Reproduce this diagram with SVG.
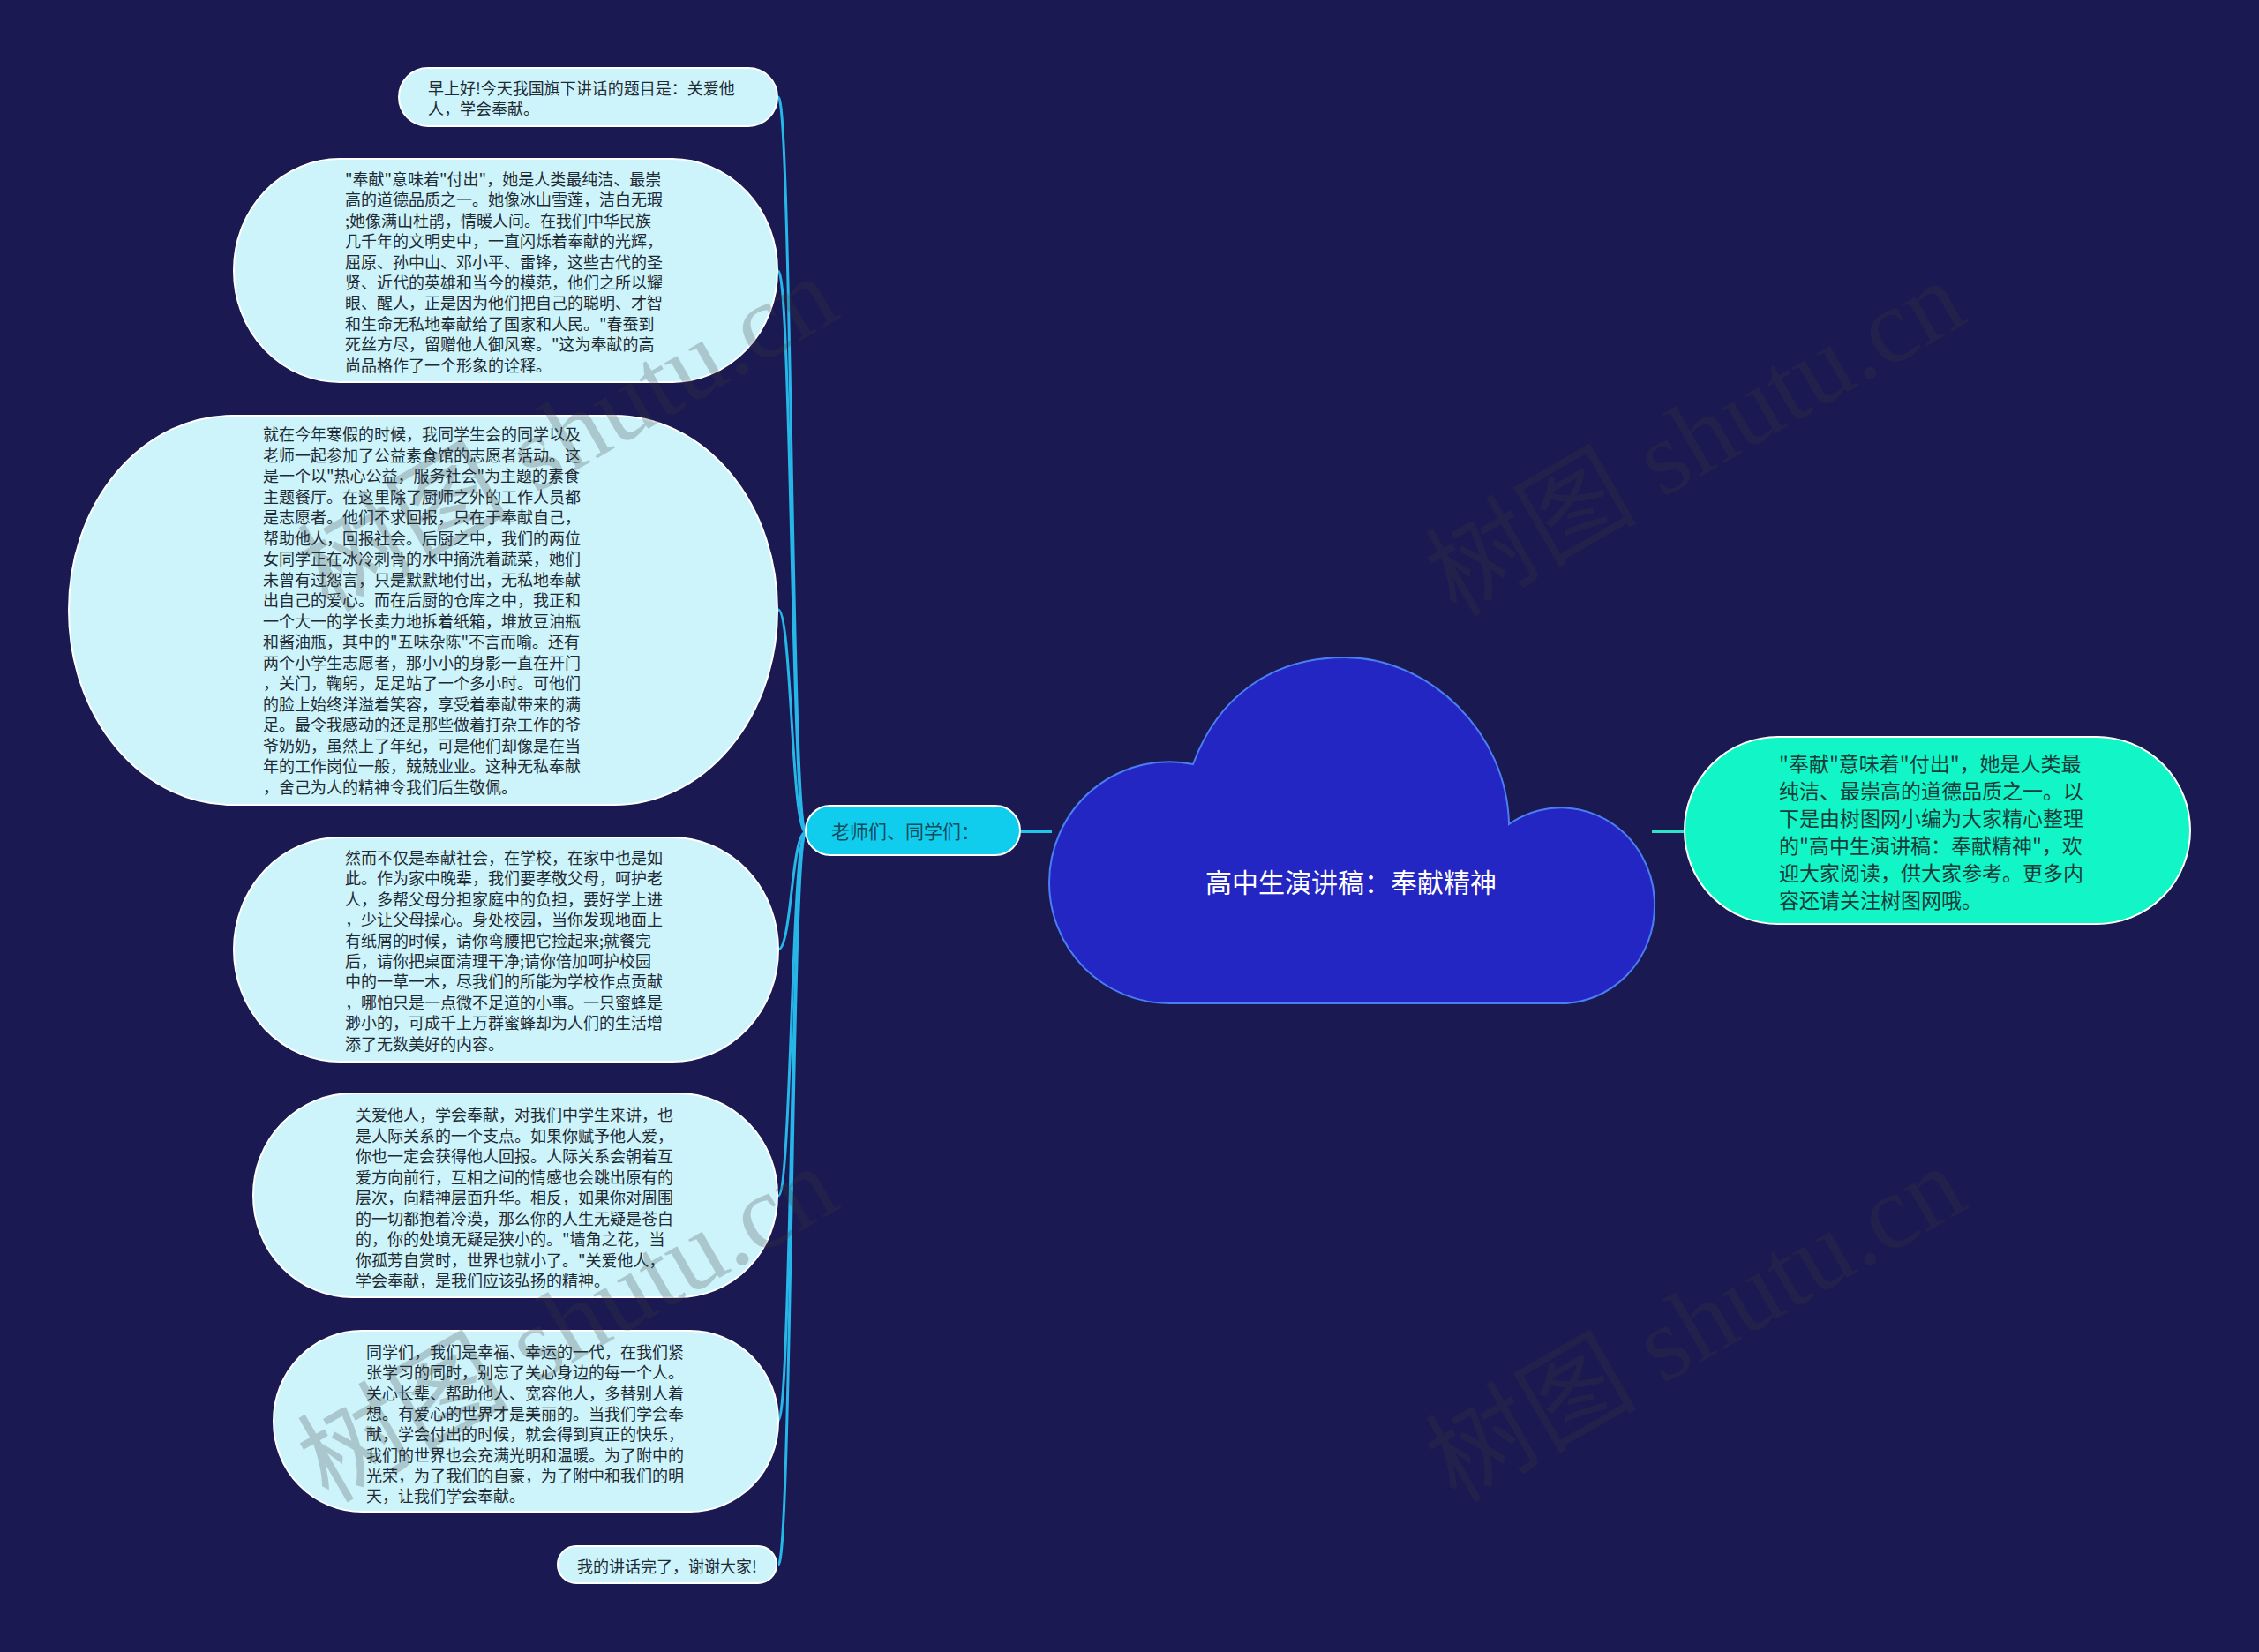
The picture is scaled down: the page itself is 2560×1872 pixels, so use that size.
<svg xmlns="http://www.w3.org/2000/svg" width="2560" height="1872" viewBox="0 0 2560 1872">
<style>
.leaf{fill:#cdf4fb;stroke:#ffffff;stroke-width:2}
.lt{font-family:"Noto Sans CJK SC","Noto Sans",sans-serif;font-size:18px;fill:#1f2a33}
.conn{fill:none;stroke:#27b6e8;stroke-width:3}
.wm{font-family:"Liberation Serif","Noto Sans CJK SC",serif;font-size:120px;fill:#3c3c3c;fill-opacity:0.24}
</style>
<rect x="0" y="0" width="2560" height="1872" fill="#1a1952"/>

<g id="connectors">
<path class="conn" d="M913 943 C897 943 897 110 882 110"/>
<path class="conn" d="M913 943 C897 943 897 307 882 307"/>
<path class="conn" d="M913 943 C897 943 897 691 882 691"/>
<path class="conn" d="M913 943 C897 943 897 1076 882 1076"/>
<path class="conn" d="M913 943 C897 943 897 1355 882 1355"/>
<path class="conn" d="M913 943 C897 943 897 1610 882 1610"/>
<path class="conn" d="M913 943 C897 943 897 1773 882 1773"/>
<line x1="1156" y1="942" x2="1192" y2="942" stroke="#1ec6ea" stroke-width="4"/>
<line x1="1872" y1="942" x2="1910" y2="942" stroke="#2fe3c9" stroke-width="4"/>
</g>

<g id="root">
<path d="M1325 1137 A136 137 0 0 1 1189 1000 A136 137 0 0 1 1352 866 C1380 790 1440 745 1524 745 C1620 745 1708 830 1710 934 A106 110 0 0 1 1875 1027 A106 110 0 0 1 1769 1137 Z" fill="#2426c4" stroke="#4a7ff2" stroke-width="2"/>
<text x="1531" y="1011" text-anchor="middle" font-family="Noto Sans CJK SC,Noto Sans,sans-serif" font-size="30" fill="#ffffff">高中生演讲稿：奉献精神</text>
</g>

<g id="intro">
<rect x="1909" y="835" width="573" height="212" rx="106" ry="106" fill="#12f5c6" stroke="#ffffff" stroke-width="2"/>
<text font-family="Noto Sans CJK SC,Noto Sans,sans-serif" font-size="23" fill="#173d3a">
<tspan x="2016" y="874">"奉献"意味着"付出"，她是人类最</tspan>
<tspan x="2016" y="905">纯洁、最崇高的道德品质之一。以</tspan>
<tspan x="2016" y="936">下是由树图网小编为大家精心整理</tspan>
<tspan x="2016" y="967">的"高中生演讲稿：奉献精神"，欢</tspan>
<tspan x="2016" y="998">迎大家阅读，供大家参考。更多内</tspan>
<tspan x="2016" y="1029">容还请关注树图网哦。</tspan>
</text>
</g>

<g id="greeting">
<rect x="913" y="913" width="243" height="56" rx="28" ry="28" fill="#10cdee" stroke="#ffffff" stroke-width="2"/>
<text x="942" y="950" font-family="Noto Sans CJK SC,Noto Sans,sans-serif" font-size="21" fill="#134b5c">老师们、同学们：</text>
</g>

<g id="n1">
<rect class="leaf" x="452" y="77" width="429" height="66" rx="33" ry="33"/>
<text class="lt"><tspan x="485" y="107">早上好!今天我国旗下讲话的题目是：关爱他</tspan><tspan x="485" y="130">人，学会奉献。</tspan></text>
</g>

<g id="n2">
<rect class="leaf" x="265" y="180" width="616" height="253" rx="120" ry="126"/>
<text class="lt">
<tspan x="391" y="210">"奉献"意味着"付出"，她是人类最纯洁、最崇</tspan>
<tspan x="391" y="233.4">高的道德品质之一。她像冰山雪莲，洁白无瑕</tspan>
<tspan x="391" y="256.8">;她像满山杜鹃，情暖人间。在我们中华民族</tspan>
<tspan x="391" y="280.2">几千年的文明史中，一直闪烁着奉献的光辉，</tspan>
<tspan x="391" y="303.6">屈原、孙中山、邓小平、雷锋，这些古代的圣</tspan>
<tspan x="391" y="327">贤、近代的英雄和当今的模范，他们之所以耀</tspan>
<tspan x="391" y="350.4">眼、醒人，正是因为他们把自己的聪明、才智</tspan>
<tspan x="391" y="373.8">和生命无私地奉献给了国家和人民。"春蚕到</tspan>
<tspan x="391" y="397.2">死丝方尽，留赠他人御风寒。"这为奉献的高</tspan>
<tspan x="391" y="420.6">尚品格作了一个形象的诠释。</tspan>
</text>
</g>

<g id="n3">
<rect class="leaf" x="78" y="471" width="803" height="441" rx="185" ry="220"/>
<text class="lt">
<tspan x="298" y="499">就在今年寒假的时候，我同学生会的同学以及</tspan>
<tspan x="298" y="522.5">老师一起参加了公益素食馆的志愿者活动。这</tspan>
<tspan x="298" y="546">是一个以"热心公益，服务社会"为主题的素食</tspan>
<tspan x="298" y="569.5">主题餐厅。在这里除了厨师之外的工作人员都</tspan>
<tspan x="298" y="593">是志愿者。他们不求回报，只在于奉献自己，</tspan>
<tspan x="298" y="616.5">帮助他人，回报社会。后厨之中，我们的两位</tspan>
<tspan x="298" y="640">女同学正在冰冷刺骨的水中摘洗着蔬菜，她们</tspan>
<tspan x="298" y="663.5">未曾有过怨言，只是默默地付出，无私地奉献</tspan>
<tspan x="298" y="687">出自己的爱心。而在后厨的仓库之中，我正和</tspan>
<tspan x="298" y="710.5">一个大一的学长卖力地拆着纸箱，堆放豆油瓶</tspan>
<tspan x="298" y="734">和酱油瓶，其中的"五味杂陈"不言而喻。还有</tspan>
<tspan x="298" y="757.5">两个小学生志愿者，那小小的身影一直在开门</tspan>
<tspan x="298" y="781">，关门，鞠躬，足足站了一个多小时。可他们</tspan>
<tspan x="298" y="804.5">的脸上始终洋溢着笑容，享受着奉献带来的满</tspan>
<tspan x="298" y="828">足。最令我感动的还是那些做着打杂工作的爷</tspan>
<tspan x="298" y="851.5">爷奶奶，虽然上了年纪，可是他们却像是在当</tspan>
<tspan x="298" y="875">年的工作岗位一般，兢兢业业。这种无私奉献</tspan>
<tspan x="298" y="898.5">，舍己为人的精神令我们后生敬佩。</tspan>
</text>
</g>

<g id="n4">
<rect class="leaf" x="265" y="949" width="617" height="254" rx="120" ry="127"/>
<text class="lt">
<tspan x="391" y="979">然而不仅是奉献社会，在学校，在家中也是如</tspan>
<tspan x="391" y="1002.4">此。作为家中晚辈，我们要孝敬父母，呵护老</tspan>
<tspan x="391" y="1025.8">人，多帮父母分担家庭中的负担，要好学上进</tspan>
<tspan x="391" y="1049.2">，少让父母操心。身处校园，当你发现地面上</tspan>
<tspan x="391" y="1072.6">有纸屑的时候，请你弯腰把它捡起来;就餐完</tspan>
<tspan x="391" y="1096">后，请你把桌面清理干净;请你倍加呵护校园</tspan>
<tspan x="391" y="1119.4">中的一草一木，尽我们的所能为学校作点贡献</tspan>
<tspan x="391" y="1142.8">，哪怕只是一点微不足道的小事。一只蜜蜂是</tspan>
<tspan x="391" y="1166.2">渺小的，可成千上万群蜜蜂却为人们的生活增</tspan>
<tspan x="391" y="1189.6">添了无数美好的内容。</tspan>
</text>
</g>

<g id="n5">
<rect class="leaf" x="287" y="1239" width="594" height="231" rx="112" ry="115"/>
<text class="lt">
<tspan x="403" y="1270">关爱他人，学会奉献，对我们中学生来讲，也</tspan>
<tspan x="403" y="1293.5">是人际关系的一个支点。如果你赋予他人爱，</tspan>
<tspan x="403" y="1317">你也一定会获得他人回报。人际关系会朝着互</tspan>
<tspan x="403" y="1340.5">爱方向前行，互相之间的情感也会跳出原有的</tspan>
<tspan x="403" y="1364">层次，向精神层面升华。相反，如果你对周围</tspan>
<tspan x="403" y="1387.5">的一切都抱着冷漠，那么你的人生无疑是苍白</tspan>
<tspan x="403" y="1411">的，你的处境无疑是狭小的。"墙角之花，当</tspan>
<tspan x="403" y="1434.5">你孤芳自赏时，世界也就小了。"关爱他人，</tspan>
<tspan x="403" y="1458">学会奉献，是我们应该弘扬的精神。</tspan>
</text>
</g>

<g id="n6">
<rect class="leaf" x="310" y="1508" width="572" height="205" rx="100" ry="102"/>
<text class="lt">
<tspan x="415" y="1539">同学们，我们是幸福、幸运的一代，在我们紧</tspan>
<tspan x="415" y="1562.3">张学习的同时，别忘了关心身边的每一个人。</tspan>
<tspan x="415" y="1585.6">关心长辈、帮助他人、宽容他人，多替别人着</tspan>
<tspan x="415" y="1608.9">想。有爱心的世界才是美丽的。当我们学会奉</tspan>
<tspan x="415" y="1632.2">献，学会付出的时候，就会得到真正的快乐，</tspan>
<tspan x="415" y="1655.5">我们的世界也会充满光明和温暖。为了附中的</tspan>
<tspan x="415" y="1678.8">光荣，为了我们的自豪，为了附中和我们的明</tspan>
<tspan x="415" y="1702.1">天，让我们学会奉献。</tspan>
</text>
</g>

<g id="n7">
<rect class="leaf" x="632" y="1752" width="248" height="42" rx="21" ry="21"/>
<text class="lt" x="654" y="1782">我的讲话完了，谢谢大家!</text>
</g>

<g id="watermarks">
<text class="wm" x="1650" y="700" transform="rotate(-30 1650 700)">树图 shutu.cn</text>
<text class="wm" x="1650" y="1704" transform="rotate(-30 1650 1704)">树图 shutu.cn</text>
<text class="wm" x="372" y="695" transform="rotate(-30 372 695)">树图 shutu.cn</text>
<text class="wm" x="372" y="1704" transform="rotate(-30 372 1704)">树图 shutu.cn</text>
</g>
</svg>
